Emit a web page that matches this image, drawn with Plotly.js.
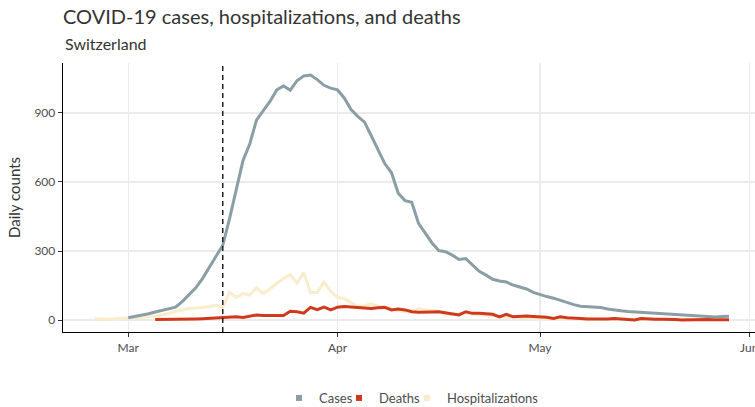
<!DOCTYPE html>
<html>
<head>
<meta charset="utf-8">
<script src="https://cdn.plot.ly/plotly-3.0.1.min.js"></script>
<style>html,body{margin:0;padding:0;background:#fff;}#chart{width:755px;height:407px;}</style>
</head>
<body>
<div id="chart"></div>
<script>
// Start dates of each series (daily values follow consecutively)
const casesStart = "2020-03-01";
const deathsStart = "2020-03-05";
const hospStart = "2020-02-25";
const interventionDate = "2020-03-15";

const casesValues = [10,15,20,27,35,43,50,56,80,108,140,180,230,280,325,440,563,693,765,869,
  910,950,1000,1017,999,1040,1061,1065,1045,1020,1008,1000,965,915,885,860,801,740,680,640,
  551,519,512,420,375,335,302,297,282,263,267,238,212,195,177,170,165,152,143,135,
  120,110,102,95,85,75,67,60,58,56,54,48,43,40,37,35,33,31,30,29,
  26,23,21,20,19,16,13,13,15,16];

const deathsValues = [2,2,2,3,3,4,5,6,7,8,10,12,14,11,18,22,20,20,23,20,
  38,36,30,55,45,56,44,56,59,56,54,51,50,53,55,44,48,44,36,34,
  33,35,36,32,28,22,36,29,29,27,25,14,25,14,16,17,15,14,12,7,
  14,10,10,7,5,3,4,4,7,5,4,0,7,4,3,3,4,2,0,1,
  3,4,2,1,0,1];

const hospValues = [5,6,3,5,10,10,8,10,14,17,22,28,38,44,50,52,55,58,65,55,
  120,98,115,108,140,115,135,160,180,198,160,206,120,120,165,125,98,94,75,60,
  62,70,60,55,48,40,36,40,50,45,40,38,22,25,28,30,25,22,20,18,
  15,12,14,10,9,8,8,7,6,6,5,5,5,4,4,4,4,3,3,3,
  3,3,3,3,2,2,2,2,2,2,2,2,2,2];

const seriesNames = ["Cases","Deaths","Hospitalizations"];
const seriesColors = ["#8a9fa5","#cf3a1c","#f9edcc"];
const yTicks = [0,300,600,900];

function datesFrom(start, n){
  const out=[]; const d=new Date(start+"T00:00:00Z");
  for(let i=0;i<n;i++){ const t=new Date(d.getTime()+i*86400000); out.push(t.toISOString().slice(0,10)); }
  return out;
}

const font = "Lato, 'Open Sans', sans-serif";
const traces = [
  {x:datesFrom(hospStart,hospValues.length), y:hospValues, name:seriesNames[2], mode:"lines",
   line:{color:seriesColors[2],width:3}, showlegend:false, hoverinfo:"skip"},
  {x:datesFrom(deathsStart,deathsValues.length), y:deathsValues, name:seriesNames[1], mode:"lines",
   line:{color:seriesColors[1],width:3}, showlegend:false, hoverinfo:"skip"},
  {x:datesFrom(casesStart,casesValues.length), y:casesValues, name:seriesNames[0], mode:"lines",
   line:{color:seriesColors[0],width:3}, showlegend:false, hoverinfo:"skip"}
];
// legend keys, one legend box per series so they can be spaced like the reference
const legendIds = ["legend","legend2","legend3"];
seriesNames.forEach((n,i)=>{
  traces.push({x:[null], y:[null], name:n, mode:"markers", legend:legendIds[i],
    marker:{symbol:"square", size:6, color:seriesColors[i]}, showlegend:true});
});

const plotL = 63, plotW = 692, plotB = 332, plotH = 269;
const legendSwatchX = [299, 359, 427];
function legendCfg(px){
  return {orientation:"h", x:(px-20-plotL)/plotW, xanchor:"left", y:-(398-plotB)/plotH, yanchor:"middle",
    font:{size:13, color:"#4d4d4d"}, itemwidth:30, bgcolor:"rgba(0,0,0,0)", borderwidth:0};
}

const layout = {
  width:755, height:407,
  margin:{l:plotL, r:0, t:63, b:75, autoexpand:false},
  paper_bgcolor:"#fff", plot_bgcolor:"#fff",
  font:{family:font, color:"#4d4d4d"},
  title:{text:"COVID-19 cases, hospitalizations, and deaths", font:{size:20, color:"#333", family:font},
    x:63/755, xanchor:"left", xref:"container", y:1-17/407, yanchor:"middle", yref:"container"},
  annotations:[{text:"Switzerland", xref:"paper", yref:"paper", x:0, xanchor:"left",
    y:1+(63-43)/269, yanchor:"middle", showarrow:false, font:{size:16, color:"#333", family:font}}],
  xaxis:{type:"date", range:["2020-02-20 08:00","2020-06-01 20:24"],
    tickvals:["2020-03-01","2020-04-01","2020-05-01","2020-06-01"], ticktext:["Mar","Apr","May","Jun"],
    showgrid:true, gridcolor:"#ebebeb", gridwidth:1.2, zeroline:false,
    showline:true, linecolor:"#000", linewidth:1.3,
    ticks:"outside", ticklen:4, tickcolor:"#333", tickwidth:1,
    ticklabeloverflow:"allow",
    tickfont:{size:12, color:"#4d4d4d"}},
  yaxis:{range:[-52,1117], tickvals:yTicks, ticktext:yTicks.map(String),
    showgrid:true, gridcolor:"#ebebeb", gridwidth:1.2, zeroline:false,
    showline:true, linecolor:"#000", linewidth:1.3,
    ticks:"outside", ticklen:4, tickcolor:"#333", tickwidth:1,
    tickfont:{size:12, color:"#4d4d4d"},
    title:{text:"Daily counts", font:{size:15, color:"#333"}, standoff:10}},
  showlegend:true,
  legend:legendCfg(legendSwatchX[0]),
  legend2:legendCfg(legendSwatchX[1]),
  legend3:legendCfg(legendSwatchX[2]),
  shapes:[{type:"line", xref:"x", yref:"paper", x0:interventionDate, x1:interventionDate, y0:0, y1:1,
    line:{color:"#222", width:1.5, dash:"5px,4px"}}]
};
Plotly.newPlot("chart", traces, layout, {displayModeBar:false, staticPlot:true});
</script>
</body>
</html>
